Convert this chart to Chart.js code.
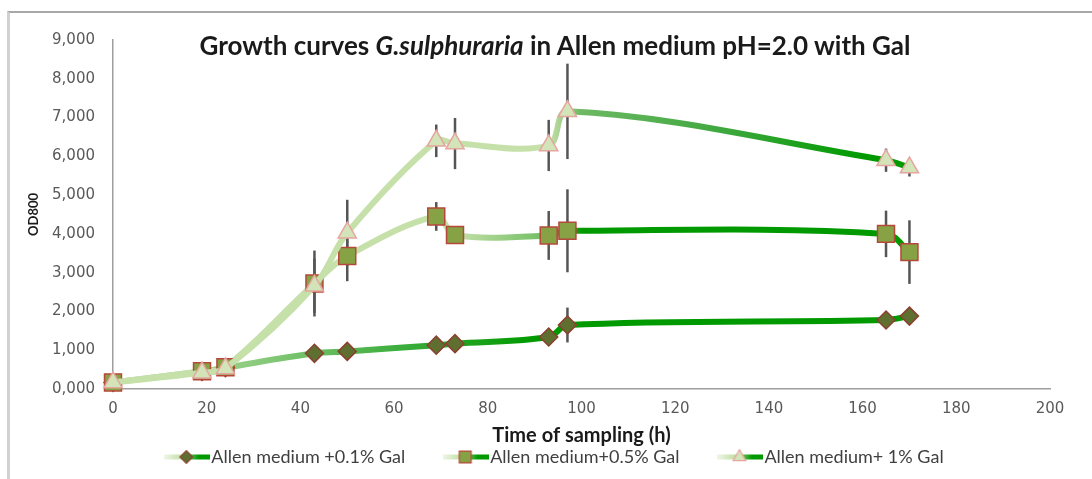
<!DOCTYPE html>
<html>
<head>
<meta charset="utf-8">
<script src="https://cdn.jsdelivr.net/npm/chart.js@4.4.1/dist/chart.umd.min.js"></script>
<style>
  html, body { margin: 0; padding: 0; background: #fff; overflow: hidden; }
  #wrap { position: relative; width: 1092px; height: 479px; }
  #frame { position: absolute; left: 7px; top: 11px; width: 1200px; height: 600px;
           border-top: 2px solid #a8a8a8; border-left: 3px solid #d2d2d2; }
  #title { position: absolute; left: 105px; width: 900px; top: 30px; text-align: center;
           font: bold 26px Lato, sans-serif; color: #1a1a1a; line-height: 30px; }
  canvas { position: absolute; left: 0; top: 0; }
</style>
</head>
<body>
<div id="wrap">
  <div id="frame"></div>
  <canvas id="chart" width="1092" height="479"></canvas>
  <div id="title">Growth curves <i>G.sulphuraria</i> in Allen medium pH=2.0 with Gal</div>
</div>
<script>
// sampling times (h)
const hours = [0, 19, 24, 43, 50, 69, 73, 93, 97, 165, 170];

// OD800 per medium
const od01 = [0.17, 0.45, 0.55, 0.92, 0.97, 1.13, 1.17, 1.34, 1.65, 1.78, 1.88];
const od05 = [0.17, 0.46, 0.56, 2.72, 3.43, 4.45, 3.97, 3.96, 4.08, 4.00, 3.53];
const od1 = [0.17, 0.42, 0.53, 2.66, 4.03, 6.40, 6.33, 6.28, 7.16, 5.90, 5.71];

// error bars (+/-)
const err01 = [0, 0, 0, 0, 0, 0, 0, 0.10, 0.45, 0.05, 0.05];
const err05 = [0, 0, 0, 0.85, 0.65, 0.37, 0.10, 0.63, 1.07, 0.60, 0.82];
const err1 = [0, 0, 0, 0.70, 0.85, 0.42, 0.66, 0.66, 1.23, 0.30, 0.23];

const seriesNames = ["Allen medium +0.1% Gal", "Allen medium+0.5% Gal", "Allen medium+ 1% Gal"];
const yTickLabels = ["0,000", "1,000", "2,000", "3,000", "4,000", "5,000", "6,000", "7,000", "8,000", "9,000"];
const xTickLabels = ["0", "20", "40", "60", "80", "100", "120", "140", "160", "180", "200"];

const PALE = "#c6e0aa";
const GREEN = "#009a00";

// colour stops along the time axis for each line
const stops01 = [[0, "#b4d99c"], [30, "#8ccb7e"], [60, "#3fae3f"], [90, GREEN], [200, GREEN]];
const stops05 = [[0, PALE], [73, PALE], [93, "#6dbd5f"], [100, GREEN], [200, GREEN]];
const stops1 = [[0, PALE], [93, PALE], [100, "#6cb863"], [130, "#3fa83f"], [160, GREEN], [200, GREEN]];

function lineGradient(chart, stops) {
  const { ctx, chartArea, scales } = chart;
  if (!chartArea) return stops[stops.length - 1][1];
  const x0 = scales.x.getPixelForValue(0);
  const x1 = scales.x.getPixelForValue(200);
  const g = ctx.createLinearGradient(x0, 0, x1, 0);
  stops.forEach(([t, c]) => g.addColorStop(t / 200, c));
  return g;
}

function legendIcon(style, radius, fill, border) {
  const c = document.createElement("canvas");
  c.width = 46; c.height = 18;
  const ctx = c.getContext("2d");
  const g = ctx.createLinearGradient(0, 0, 46, 0);
  g.addColorStop(0, "rgba(198,224,170,0.3)");
  g.addColorStop(0.35, PALE);
  g.addColorStop(0.75, GREEN);
  g.addColorStop(1, GREEN);
  ctx.strokeStyle = g;
  ctx.lineWidth = 5;
  ctx.beginPath(); ctx.moveTo(0, 9); ctx.lineTo(46, 9); ctx.stroke();
  ctx.fillStyle = fill; ctx.strokeStyle = border;
  ctx.lineWidth = 1.2;
  Chart.helpers.drawPoint(ctx, { pointStyle: style, radius: radius, rotation: 0, borderWidth: 1.2 }, 22, 9);
  return c;
}

const errorBars = {
  id: "errorBars",
  beforeDatasetsDraw(chart) {
    const { ctx, scales: { x, y } } = chart;
    ctx.save();
    ctx.strokeStyle = "#555";
    ctx.lineWidth = 2.5;
    [[od01, err01], [od05, err05], [od1, err1]].forEach(([vals, errs]) => {
      hours.forEach((h, i) => {
        if (!errs[i]) return;
        const px = x.getPixelForValue(h);
        ctx.beginPath();
        ctx.moveTo(px, y.getPixelForValue(vals[i] - errs[i]));
        ctx.lineTo(px, y.getPixelForValue(vals[i] + errs[i]));
        ctx.stroke();
      });
    });
    ctx.restore();
  }
};

// place the legend like the original: centred under the whole chart, wide gaps
const legendShift = {
  id: "legendShift",
  afterLayout(chart) {
    chart.legend.left += 22;
    chart.legend.right += 22;
    chart.legend.top -= 46;
  }
};

function series(label, vals, stops, style, radius, fill, border, order) {
  return {
    label,
    data: hours.map((h, i) => ({ x: h, y: vals[i] })),
    borderColor: (c) => lineGradient(c.chart, stops),
    borderWidth: 6,
    tension: 0.35,
    pointStyle: style,
    pointRadius: radius,
    pointBackgroundColor: fill,
    pointBorderColor: border,
    pointBorderWidth: 1.5,
    legendIcon: legendIcon(style, radius * 0.7, fill, border),
    clip: false,
    order,
  };
}

const datasets = [
  series(seriesNames[0], od01, stops01, "rectRot", 9, "#5f6f30", "#8b4030", 2),
  series(seriesNames[1], od05, stops05, "rect", 12, "#86a245", "#b5483a", 1),
  series(seriesNames[2], od1, stops1, "triangle", 10.5, "#d3e4b8", "#e6a5a0", 0),
];

new Chart(document.getElementById("chart"), {
  type: "line",
  data: { datasets },
  plugins: [errorBars, legendShift],
  options: {
    responsive: false,
    animation: false,
    layout: { padding: { left: 22, right: 42, top: 40, bottom: 0 } },
    plugins: {
      tooltip: { enabled: false },
      legend: {
        position: "bottom",
        maxHeight: 31,
        labels: {
          usePointStyle: true,
          pointStyleWidth: 30,
          padding: 46,
          color: "#404040",
          font: { family: "Lato", size: 18 },
          sort: (a, b) => a.datasetIndex - b.datasetIndex,
          generateLabels: (chart) => chart.data.datasets.map((ds, i) => ({
            text: ds.label,
            datasetIndex: i,
            pointStyle: ds.legendIcon,
            fillStyle: "transparent",
            strokeStyle: "transparent",
            lineWidth: 0,
            fontColor: "#404040",
          })),
        },
      },
    },
    scales: {
      x: {
        type: "linear",
        min: 0, max: 200,
        afterFit: (s) => { s.height = 59; },
        grid: { display: false, drawTicks: false },
        border: { color: "#9e9e9e", width: 1.5 },
        ticks: {
          stepSize: 20, padding: 11, color: "#595959",
          font: { family: "DejaVu Sans", size: 15 },
          callback: (v, i) => xTickLabels[i],
        },
        title: {
          display: true, text: "Time of sampling (h)", color: "#1a1a1a",
          font: { family: "Lato", size: 20, weight: "bold" },
          padding: { top: 0, bottom: 0 },
        },
      },
      y: {
        min: 0, max: 9,
        afterFit: (s) => { s.width = 91; },
        grid: { display: false, drawTicks: false },
        border: { color: "#9e9e9e", width: 1.5 },
        ticks: {
          stepSize: 1, padding: 18, color: "#595959",
          font: { family: "DejaVu Sans", size: 15 },
          callback: (v, i) => yTickLabels[i],
        },
        title: {
          display: true, text: "OD800", color: "#1a1a1a",
          font: { family: "Lato", size: 13, weight: "bold" },
        },
      },
    },
  },
});
</script>
</body>
</html>
